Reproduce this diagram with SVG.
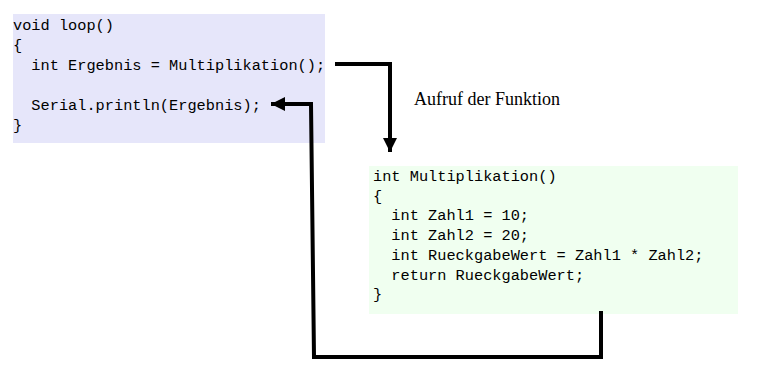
<svg xmlns="http://www.w3.org/2000/svg" width="761" height="385" viewBox="0 0 761 385">
<style>
.code{font-family:"Liberation Mono","DejaVu Sans Mono",monospace;font-size:15.3px;fill:#000;white-space:pre}
.lbl{font-family:"Liberation Serif","Times New Roman",serif;font-size:19px;fill:#000}
.conn{fill:none;stroke:#000;stroke-width:4;stroke-linejoin:miter}
</style>
<defs>
<marker id="ah" viewBox="0 0 10 10" refX="10" refY="5" markerWidth="3.6" markerHeight="3.6" orient="auto" markerUnits="strokeWidth">
<path d="M0,0 L10,5 L0,10 z" fill="#000"/>
</marker>
</defs>
<rect width="761" height="385" fill="#fff"/>
<g id="loop">
<rect x="13" y="14" width="312" height="129" fill="#e6e6fa"/>
<text class="code" x="13" y="30">void loop()</text>
<text class="code" x="13" y="50">{</text>
<text class="code" x="13" y="70">  int Ergebnis = Multiplikation();</text>
<text class="code" x="13" y="110">  Serial.println(Ergebnis);</text>
<text class="code" x="13" y="130">}</text>
</g>
<g id="multiplikation">
<rect x="369" y="166" width="369" height="148" fill="#f0fff0"/>
<text class="code" x="373" y="181">int Multiplikation()</text>
<text class="code" x="373" y="200.7">{</text>
<text class="code" x="373" y="220.4">  int Zahl1 = 10;</text>
<text class="code" x="373" y="240.1">  int Zahl2 = 20;</text>
<text class="code" x="373" y="259.8">  int RueckgabeWert = Zahl1 * Zahl2;</text>
<text class="code" x="373" y="279.5">  return RueckgabeWert;</text>
<text class="code" x="373" y="299.2">}</text>
</g>
<g id="label">
<text class="lbl" x="414" y="105" textLength="146" lengthAdjust="spacingAndGlyphs">Aufruf der Funktion</text>
</g>
<g id="connectors">
<polyline class="conn" points="335,64 390,64 390,152" marker-end="url(#ah)"/>
<polyline class="conn" points="601,311 601,357 314,357 311,104 271,104" marker-end="url(#ah)"/>
</g>
</svg>
